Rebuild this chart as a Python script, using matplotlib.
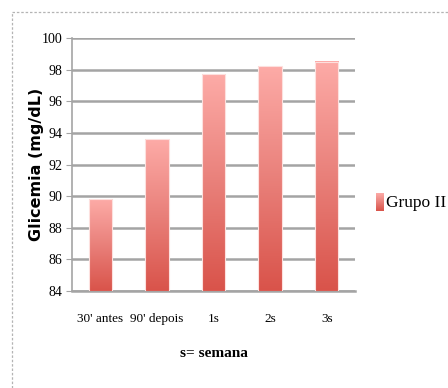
import numpy as np
import matplotlib.pyplot as plt
from matplotlib.colors import LinearSegmentedColormap
from matplotlib.patches import Rectangle
from matplotlib.lines import Line2D

categories = ["30' antes", "90' depois", "1s", "2s", "3s"]
glicemia = [89.8, 93.6, 97.7, 98.2, 98.5]
yticks = [84, 86, 88, 90, 92, 94, 96, 98, 100]
series_name = "Grupo II"

serif = ["Liberation Serif", "DejaVu Serif"]
fig = plt.figure(figsize=(4.48, 3.88), dpi=100)
fig.patch.set_facecolor("white")

# frame around chart area
fig.add_artist(Line2D([12/448, 12/448], [0, 1 - 12/388], transform=fig.transFigure,
                      color="#b4b4b4", lw=0.9, ls=(0, (2, 1.5))))
fig.add_artist(Line2D([12/448, 1], [1 - 12/388, 1 - 12/388], transform=fig.transFigure,
                      color="#b4b4b4", lw=0.9, ls=(0, (2, 1.5))))

ax = fig.add_axes([72/448, 1 - 291/388, 283/448, 253/388])
ax.set_xlim(-0.5, len(categories) - 0.5)
ax.set_ylim(84, 100)

cmap = LinearSegmentedColormap.from_list("grad", ["#d9534a", "#e9807a", "#fdaba7"])
grad = np.linspace(0, 1, 256).reshape(-1, 1)
width = 0.41
bars = ax.bar(range(len(categories)), glicemia, width=width, bottom=0,
              color="none", edgecolor="none", zorder=3)
for b in bars:
    x0, w, h = b.get_x(), b.get_width(), b.get_height()
    ax.imshow(grad, extent=(x0, x0 + w, 84, h), origin="lower",
              aspect="auto", cmap=cmap, zorder=3)
    ax.add_patch(Rectangle((x0, 84), w, h - 84, fill=False,
                           edgecolor="#fde0de", lw=0.8, zorder=4))

ax.set_yticks(yticks)
ax.yaxis.grid(True, color="#a4a4a4", lw=1.8, zorder=1)
ax.set_axisbelow(True)
for s in ["top", "right"]:
    ax.spines[s].set_visible(False)
ax.spines["left"].set_color("#a4a4a4")
ax.spines["bottom"].set_color("#a4a4a4")
ax.spines["left"].set_linewidth(1.2)
ax.spines["bottom"].set_linewidth(1.8)
ax.tick_params(axis="y", length=4, color="#a4a4a4", pad=3)
ax.tick_params(axis="x", length=0, pad=16)
ax.set_xticks(range(len(categories)))
ax.set_xticklabels(categories, family=serif, fontsize=9.5)
for t in ax.get_yticklabels():
    t.set_family(serif)
    t.set_fontsize(10)

ax.set_ylabel("Glicemia (mg/dL)", fontsize=11.5, fontweight="bold",
              family=["DejaVu Sans"])
ax.yaxis.set_label_coords(-28/283, 0.5)
ax.set_xlabel("s= semana", fontsize=11, fontweight="bold", family=serif,
              labelpad=16)

# legend
lax = fig.add_axes([376/448, 1 - 211/388, 8/448, 18/388])
lax.imshow(grad, extent=(0, 1, 0, 1), origin="lower", aspect="auto", cmap=cmap)
lax.axis("off")
fig.text(386/448, 1 - 203/388, series_name, fontsize=12.5, family=serif,
         va="center", ha="left")

fig.savefig("out.png", dpi=100)
